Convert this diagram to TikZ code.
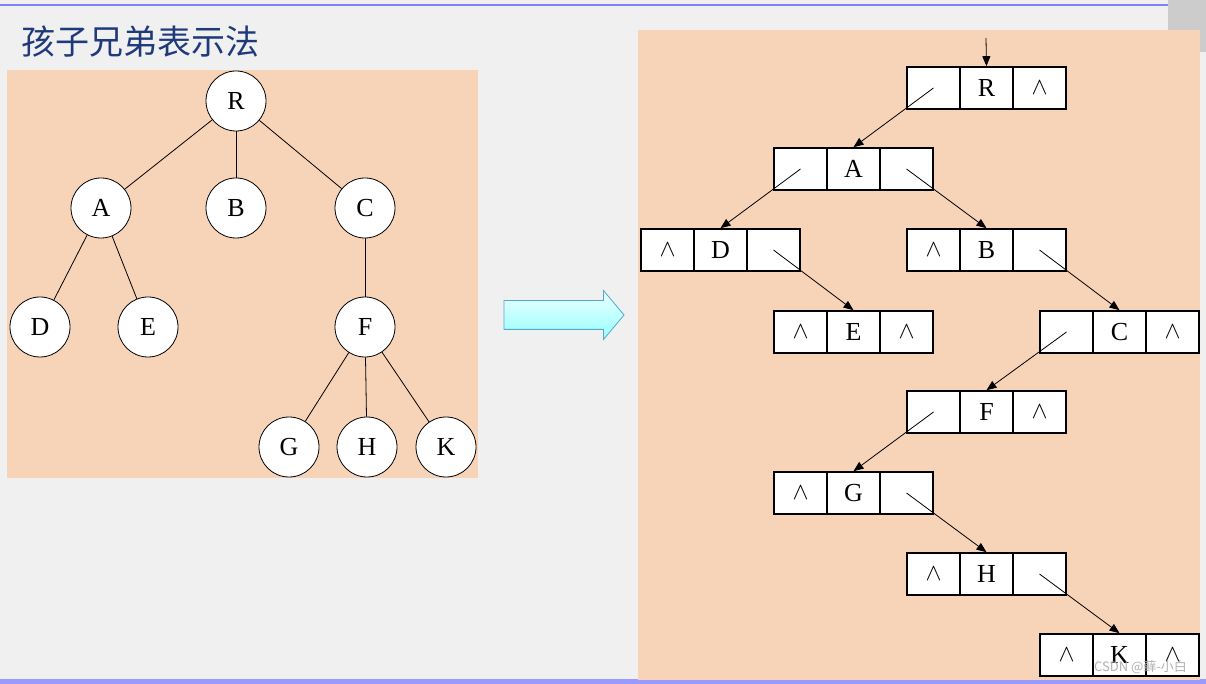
\documentclass[tikz,border=0pt]{standalone}
\usepackage{fontspec}
\setmainfont{Liberation Serif}
\newfontfamily\cjk{Noto Sans CJK SC}
\usetikzlibrary{arrows.meta,shapes.arrows}
\definecolor{peach}{HTML}{F7D3B8}
\definecolor{slide}{HTML}{F0F0F0}
\definecolor{titleblue}{HTML}{1F3A7A}
\tikzset{
  tnode/.style={circle,draw,fill=white,minimum size=30pt,inner sep=0pt,font=\fontsize{13}{13}\selectfont},
  cell/.style={rectangle,draw,thick,fill=white,minimum width=26.5pt,minimum height=21pt,inner sep=0pt,font=\fontsize{13}{13}\selectfont},
  ptr/.style={-{Triangle[length=5pt,width=4pt]},thin},
}
% three cells of one record: #1 name, (#2,#3) left corner, #4 #5 #6 contents
\newcommand\rec[6]{%
  \node[cell] (#1-l) at (#2+26.5,#3) {#4};
  \node[cell] (#1-m) at (#2+79.5,#3) {#5};
  \node[cell] (#1-r) at (#2+132.5,#3) {#6};}
\begin{document}
\begin{tikzpicture}[x=0.5pt,y=-0.5pt]
  \fill[slide] (0,0) rectangle (1206,684);
  \useasboundingbox (0,0) rectangle (1206,684);
  \draw[blue!50,thick] (0,5) -- (1206,5);
  \fill[blue!40] (0,679) rectangle (1206,684);
  \fill[gray!40] (1168,0) rectangle (1206,52);
  \node[anchor=west,text=titleblue,font=\cjk\fontsize{17}{17}\selectfont] (title) at (14,42) {孩子兄弟表示法};
  % left: the tree
  \fill[peach] (7,70) rectangle (478,478);
  \node[tnode] (R) at (236,101) {R};
  \node[tnode] (A) at (101,208) {A};
  \node[tnode] (B) at (236,208) {B};
  \node[tnode] (C) at (365,208) {C};
  \node[tnode] (D) at (40,327) {D};
  \node[tnode] (E) at (148,327) {E};
  \node[tnode] (F) at (365,327) {F};
  \node[tnode] (G) at (289,447) {G};
  \node[tnode] (H) at (367,447) {H};
  \node[tnode] (K) at (446,447) {K};
  \foreach \a/\b in {R/A,R/B,R/C,A/D,A/E,C/F,F/G,F/H,F/K}
    \draw (\a) -- (\b);
  % arrow
  \node[single arrow,draw=cyan!60!gray,top color=cyan!8,bottom color=cyan!40,
        minimum height=60pt,inner xsep=0pt,inner ysep=7pt,single arrow head extend=5pt,
        single arrow tip angle=100] (conv) at (558,315) {};
  % right: the binary list
  \fill[peach] (638,30) rectangle (1200,680);
  \rec{R}{907}{88}{}{R}{$\wedge$}
  \rec{A}{774}{169}{}{A}{}
  \rec{D}{641}{250}{$\wedge$}{D}{}
  \rec{B}{907}{250}{$\wedge$}{B}{}
  \rec{E}{774}{332}{$\wedge$}{E}{$\wedge$}
  \rec{C}{1040}{332}{}{C}{$\wedge$}
  \rec{F}{907}{412}{}{F}{$\wedge$}
  \rec{G}{774}{493}{$\wedge$}{G}{}
  \rec{H}{907}{574}{$\wedge$}{H}{}
  \rec{K}{1040}{655}{$\wedge$}{K}{$\wedge$}
  \coordinate (head) at (986,38);
  \draw[ptr] (head) -- (R-m.north);
  \foreach \a/\b in {R-l/A,A-l/D,A-r/B,D-r/E,B-r/C,C-l/F,F-l/G,G-r/H,H-r/K}
    \draw[ptr] (\a.center) -- (\b-m.north);
  \node[text=gray!60,font=\cjk\fontsize{6.5}{6.5}\selectfont,anchor=east] (mark) at (1194,667) {CSDN @藓-小白};
\end{tikzpicture}
\end{document}
